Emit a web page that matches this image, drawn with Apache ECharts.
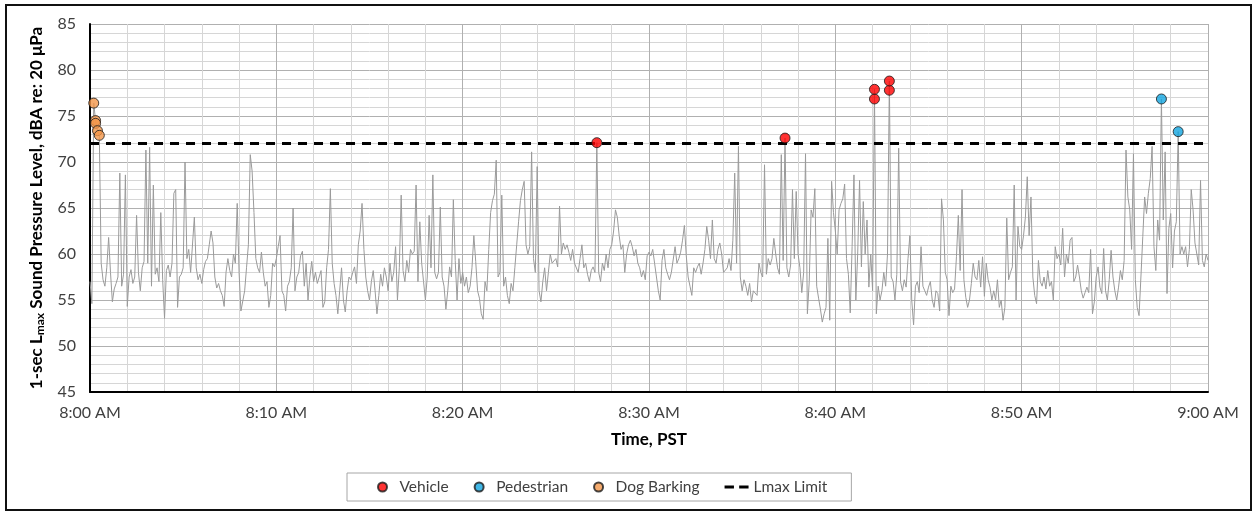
<!DOCTYPE html>
<html>
<head>
<meta charset="utf-8">
<script src="https://cdn.jsdelivr.net/npm/echarts@6/dist/echarts.min.js"></script>
<style>
html,body{margin:0;padding:0;background:#fff;}
#chart{width:1257px;height:512px;}
</style>
</head>
<body>
<div id="chart"></div>
<script>
// 1-sec Lmax values (dBA), sampled every 6 seconds, one array per 10 minutes
const lmax0800 = [57.0,54.6,76.4,74.5,73.4,72.9,59.0,57.2,56.5,58.5,
61.8,58.0,54.8,56.2,56.8,57.5,68.8,56.5,57.8,68.6,
54.3,57.5,58.3,56.8,57.5,64.2,58.0,56.0,58.5,59.2,
71.3,59.0,71.6,56.5,67.5,57.8,58.5,57.0,64.5,57.2,
53.0,58.2,58.8,57.5,59.0,66.6,67.0,54.2,57.5,57.8,
58.5,70.0,59.5,60.5,58.0,57.8,64.0,58.5,57.2,57.8,
56.8,58.3,59.2,59.5,61.0,62.5,61.2,57.5,56.3,56.8,
56.0,55.5,54.3,58.0,59.5,58.2,57.5,60.0,59.0,65.5,
58.0,53.8,53.7,56.0,58.5,61.0,70.8,69.0,64.5,59.5,
58.5,58.0,60.2,58.0,56.5,57.0,54.2,55.5,59.0,58.6];
const lmax0810 = [59.5,60.8,62.0,56.0,55.5,53.8,56.5,57.0,58.5,65.0,
56.0,57.5,58.0,59.8,60.3,56.5,59.0,55.0,57.5,59.2,
57.0,58.0,56.8,57.5,58.2,54.2,54.8,58.5,60.5,67.1,
59.0,56.8,55.5,53.5,56.0,58.5,55.0,53.7,56.0,57.5,
57.2,58.0,58.6,56.8,61.0,62.5,65.5,60.5,57.5,56.0,
55.0,57.0,58.2,56.0,53.5,55.5,57.8,56.5,58.5,57.5,
56.0,59.0,57.0,58.0,60.8,55.0,58.5,66.4,58.2,57.0,
59.3,58.0,60.5,60.0,60.3,67.5,57.0,63.5,59.0,57.0,
55.0,57.5,64.2,58.5,68.6,58.0,57.3,58.0,65.1,57.5,
56.5,54.0,56.0,58.6,57.5,65.9,59.3,55.0,59.5,56.8];
const lmax0820 = [58.0,56.5,57.5,55.8,56.5,58.5,62.0,59.2,56.0,55.2,
53.5,52.9,57.0,56.0,60.5,64.5,65.8,66.5,70.2,57.5,
58.0,66.4,56.5,57.5,55.5,54.6,56.8,56.0,58.5,61.0,
63.5,65.8,67.0,67.9,61.0,60.0,60.8,71.1,59.5,58.0,
69.5,56.0,54.8,57.0,58.5,56.0,58.0,60.0,59.0,58.8,
59.5,58.6,65.2,60.0,61.2,60.5,61.0,60.2,59.3,60.5,
59.0,58.8,58.0,59.5,61.0,58.5,59.0,57.8,57.0,58.2,
58.6,58.0,72.1,58.0,57.0,59.0,58.2,60.0,58.5,60.5,
61.0,62.5,64.8,64.0,62.0,60.5,61.0,58.0,60.0,61.0,
61.5,60.8,59.8,60.5,59.0,58.5,57.5,58.2,57.2,59.8];
const lmax0830 = [60.2,59.8,60.5,59.0,57.5,56.0,55.0,59.3,60.5,58.5,
57.8,57.2,58.0,57.8,60.8,59.0,59.5,60.2,61.5,63.1,
59.8,57.5,56.5,55.5,58.5,58.0,58.6,59.0,57.8,59.0,
60.5,63.0,61.5,59.5,63.7,59.5,59.0,60.5,61.2,60.0,
58.0,57.8,58.5,59.5,58.2,61.5,68.8,59.0,71.7,57.5,
56.0,57.2,56.5,55.5,56.8,54.8,56.0,55.8,55.5,59.0,
58.0,57.5,69.7,57.8,59.5,58.8,59.5,61.7,60.0,58.5,
57.8,70.8,59.3,72.6,58.5,57.5,58.8,67.0,59.5,66.8,
60.0,58.5,55.8,58.0,70.9,53.5,57.0,64.8,64.0,67.1,
56.5,55.2,54.0,52.6,53.5,54.2,61.7,52.8,67.9,64.5];
const lmax0840 = [62.5,60.0,64.8,65.5,66.0,67.6,59.5,57.8,53.6,60.8,
68.6,55.0,60.0,68.0,58.6,65.7,60.0,63.7,56.4,60.0,
56.0,77.9,53.5,56.5,55.0,56.0,58.0,56.5,60.0,78.8,
57.5,57.0,55.0,57.8,71.5,57.0,56.0,57.2,56.4,59.5,
62.0,55.0,52.3,56.5,57.0,55.8,60.8,56.5,56.0,55.5,
56.4,57.0,55.0,54.2,56.0,55.7,53.8,66.0,63.7,58.0,
57.2,53.3,56.5,55.8,56.2,59.7,64.2,58.2,67.0,57.2,
55.3,54.2,55.0,56.8,59.0,57.5,57.2,59.3,56.4,59.7,
55.4,59.0,57.2,56.4,55.0,56.0,55.0,57.2,54.2,55.0,
52.8,54.2,63.9,57.2,58.0,58.6,67.5,55.0,63.0,60.8];
const lmax0850 = [60.5,62.0,64.0,68.4,62.0,66.2,57.5,55.5,54.6,59.3,
57.0,56.5,57.5,56.2,58.2,56.5,57.0,55.0,60.8,59.5,
60.0,58.8,62.8,57.5,60.0,59.0,61.5,61.8,57.0,57.5,
58.8,57.5,56.0,55.2,55.8,56.4,55.8,60.5,53.5,54.8,
57.5,58.6,56.4,55.7,60.6,56.0,55.0,57.2,60.4,57.5,
56.0,55.0,56.4,58.2,57.2,59.3,71.3,66.2,64.8,60.5,
70.9,57.2,54.2,53.3,57.5,61.9,66.2,64.4,66.6,68.2,
71.7,60.8,58.2,63.7,61.5,76.85,63.7,71.1,55.7,62.8,
64.4,58.5,62.5,63.5,73.3,60.0,60.8,60.0,60.8,58.6,
60.5,67.0,64.8,61.2,60.0,58.8,68.0,59.3,58.6,60.0,
59.3];
const sampleStepMin = 0.1; // 6 seconds

// Events (minutes after 8:00 AM, dBA)
const vehicleTimes = [27.2, 37.3, 42.1, 42.1, 42.9, 42.9];
const vehicleLevels = [72.1, 72.6, 76.85, 77.9, 77.8, 78.8];
const pedestrianTimes = [57.5, 58.4];
const pedestrianLevels = [76.85, 73.3];
const dogTimes = [0.2, 0.3, 0.3, 0.4, 0.5];
const dogLevels = [76.4, 74.5, 74.2, 73.4, 72.9];
const lmaxLimit = 72;
const xTickLabels = ['8:00 AM','8:10 AM','8:20 AM','8:30 AM','8:40 AM','8:50 AM','9:00 AM'];

const allLmax = [].concat(lmax0800, lmax0810, lmax0820, lmax0830, lmax0840, lmax0850);
const lmaxData = allLmax.map((v, i) => [+(i * sampleStepMin).toFixed(2), v]);
const pairs = (t, v) => t.map((x, i) => [x, v[i]]);

const FONT = 'Lato, "Liberation Sans", sans-serif';
const chart = echarts.init(document.getElementById('chart'), null, {renderer: 'canvas'});
const markerBorder = {borderColor: '#1a1a1a', borderWidth: 1};

chart.setOption({
  animation: false,
  textStyle: {fontFamily: FONT},
  grid: {left: 90, right: 49, top: 24, bottom: 120},
  legend: {
    data: [
      {name: 'Vehicle', icon: 'circle'},
      {name: 'Pedestrian', icon: 'circle'},
      {name: 'Dog Barking', icon: 'circle'},
      {name: 'Lmax Limit', icon: 'path://M0,0H9V3H0Z M14,0H23V3H14Z', itemStyle: {color: '#000'}}
    ],
    left: 347, top: 473,
    padding: [6, 24, 6, 30],
    itemGap: 25,
    itemWidth: 24, itemHeight: 9,
    borderColor: '#a6a6a6', borderWidth: 1,
    textStyle: {fontSize: 15.5, color: '#404040', fontFamily: FONT}
  },
  xAxis: {
    type: 'value', min: 0, max: 60, interval: 10,
    name: 'Time, PST', nameLocation: 'middle', nameGap: 39,
    nameTextStyle: {fontWeight: 'bold', fontSize: 17, color: '#000', fontFamily: FONT},
    axisLine: {show: true, onZero: false, lineStyle: {color: '#000', width: 2}},
    axisTick: {show: false},
    axisLabel: {fontSize: 16, color: '#404040', margin: 13, fontFamily: FONT,
      formatter: v => xTickLabels[Math.round(v / 10)]},
    splitLine: {show: true, lineStyle: {color: '#b0b0b0', width: 1}},
    minorTick: {show: false, splitNumber: 5},
    minorSplitLine: {show: true, lineStyle: {color: '#d6d6d6', width: 1}}
  },
  yAxis: {
    type: 'value', min: 45, max: 85, interval: 5,
    name: '{t|1-sec L}{s|max}{t| Sound Pressure Level, dBA re: 20 μPa}',
    nameLocation: 'middle', nameGap: 37, nameRotate: 90,
    nameTextStyle: {
      color: '#000', fontFamily: FONT,
      rich: {
        t: {fontWeight: 'bold', fontSize: 17, color: '#000', fontFamily: FONT},
        s: {fontWeight: 'bold', fontSize: 12, color: '#000', fontFamily: FONT, padding: [9, 0, 0, 0]}
      }
    },
    axisLine: {show: true, lineStyle: {color: '#000', width: 2}},
    axisTick: {show: false},
    axisLabel: {fontSize: 16, color: '#404040', margin: 14, fontFamily: FONT},
    splitLine: {show: true, lineStyle: {color: '#b0b0b0', width: 1}},
    minorTick: {show: false, splitNumber: 5},
    minorSplitLine: {show: true, lineStyle: {color: '#d6d6d6', width: 1}}
  },
  graphic: [{
    type: 'rect', silent: true, z: 100,
    shape: {x: 6, y: 5, width: 1245, height: 505},
    style: {fill: 'none', stroke: '#111', lineWidth: 2}
  }],
  series: [
    {
      name: 'Lmax', type: 'line', data: lmaxData, showSymbol: false, symbol: 'none',
      lineStyle: {color: '#9a9a9a', width: 1}, z: 2
    },
    {
      name: 'Lmax Limit', type: 'line', data: [[0, lmaxLimit], [60, lmaxLimit]],
      symbol: 'none', color: '#000',
      lineStyle: {color: '#000', width: 3, type: [9, 7]}, z: 3
    },
    {
      name: 'Vehicle', type: 'scatter', data: pairs(vehicleTimes, vehicleLevels),
      symbolSize: 10, itemStyle: Object.assign({color: '#ff0000'}, markerBorder), z: 5
    },
    {
      name: 'Pedestrian', type: 'scatter', data: pairs(pedestrianTimes, pedestrianLevels),
      symbolSize: 10, itemStyle: Object.assign({color: '#12a5e0'}, markerBorder), z: 5
    },
    {
      name: 'Dog Barking', type: 'scatter', data: pairs(dogTimes, dogLevels),
      symbolSize: 10, itemStyle: Object.assign({color: '#f3964a'}, markerBorder), z: 5
    }
  ]
});
</script>
</body>
</html>
